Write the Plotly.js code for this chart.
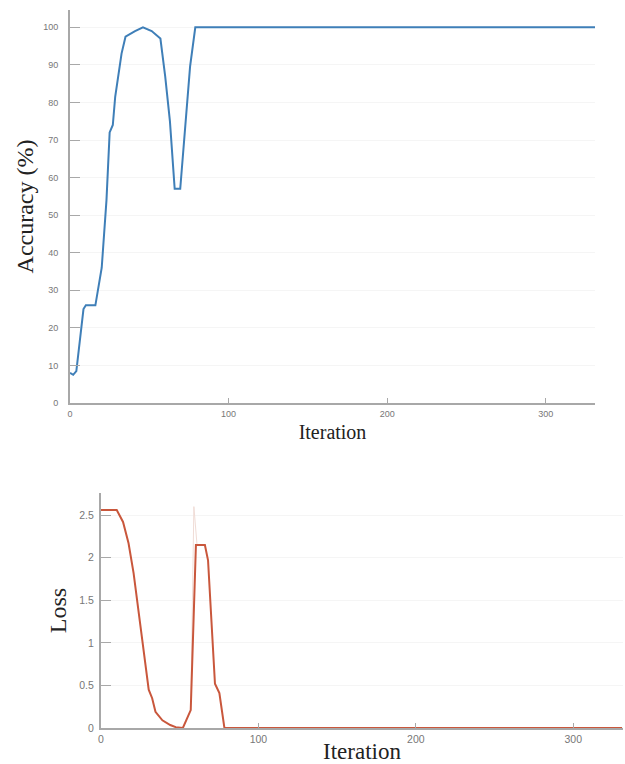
<!DOCTYPE html>
<html>
<head>
<meta charset="utf-8">
<script src="https://cdn.plot.ly/plotly-3.0.1.min.js"></script>
<style>html,body{margin:0;padding:0;background:#fff;}#chart{width:625px;height:764px;}</style>
</head>
<body>
<div id="chart"></div>
<script>
// Accuracy (%) vs iteration
const accIter = [0, 2, 4, 8.5, 10, 16, 20, 23, 25, 27, 28.5, 32.5, 35, 41, 46, 51.5, 57, 60, 63, 66, 69.5, 72.5, 75.7, 79, 331];
const accVal  = [8, 7.5, 8.5, 25, 26, 26, 36, 54, 72, 74, 81.5, 93, 97.5, 99, 100, 99, 97, 87, 75, 57, 57, 72, 89.5, 100, 100];
// Loss vs iteration (smoothed)
const lossIter = [0, 10, 14, 17.5, 20.7, 24, 27, 30.3, 32.5, 34.6, 39, 44, 47.5, 52, 57, 60.3, 66, 68, 72.4, 75.2, 78.4, 331];
const lossVal  = [2.56, 2.56, 2.42, 2.17, 1.82, 1.35, 0.88, 0.45, 0.35, 0.19, 0.09, 0.035, 0.01, 0, 0.21, 2.15, 2.15, 1.97, 0.52, 0.41, 0, 0];
// faint raw loss spike
const rawIter = [57, 59, 61];
const rawVal  = [0.21, 2.6, 2.15];

const xTicks = [0, 100, 200, 300];
const accTicks = [0, 10, 20, 30, 40, 50, 60, 70, 80, 90, 100];
const lossTicks = [0, 0.5, 1, 1.5, 2, 2.5];
const lossTickText = ["0", "0.5", "1", "1.5", "2", "2.5"];

const W = 625, H = 764;
const serif = "Liberation Serif, Times New Roman, serif";
const sans = "Liberation Sans, Arial, sans-serif";
const tickFontTop = {family: sans, size: 9, color: "#777"};
const tickFontBot = {family: sans, size: 10.5, color: "#777"};
const axisCommon = {
  showline: true, linecolor: "#a8a8a8", linewidth: 2,
  ticks: "inside", tickcolor: "#a8a8a8", tickwidth: 1,
  zeroline: false, showgrid: false, gridcolor: "#f5f5f5",
  mirror: false, fixedrange: true
};

const traces = [
  {x: accIter, y: accVal, xaxis: "x", yaxis: "y", mode: "lines",
   line: {color: "#3f7fb8", width: 2}, hoverinfo: "skip"},
  {x: rawIter, y: rawVal, xaxis: "x2", yaxis: "y2", mode: "lines",
   line: {color: "#f0dcd6", width: 1}, hoverinfo: "skip"},
  {x: lossIter, y: lossVal, xaxis: "x2", yaxis: "y2", mode: "lines",
   line: {color: "#c9573c", width: 2}, hoverinfo: "skip"}
];

const layout = {
  width: W, height: H,
  margin: {l: 0, r: 0, t: 0, b: 0},
  paper_bgcolor: "#fff", plot_bgcolor: "#fff",
  showlegend: false,
  xaxis: Object.assign({}, axisCommon, {
    domain: [70 / W, 595 / W], range: [0, 331], anchor: "y",
    tickvals: xTicks, ticklen: 5, ticklabelstandoff: 1, tickfont: tickFontTop,
    title: {text: "Iteration", font: {family: serif, size: 20, color: "#222"}, standoff: 7}
  }),
  yaxis: Object.assign({}, axisCommon, {
    domain: [1 - 403 / H, 1 - 10 / H], range: [0, 104.6], anchor: "x",
    tickvals: accTicks, ticklen: 10, ticklabelstandoff: 8, tickfont: tickFontTop,
    showgrid: true,
    title: {text: "Accuracy (%)", font: {family: serif, size: 24, color: "#222"}, standoff: 3}
  }),
  xaxis2: Object.assign({}, axisCommon, {
    domain: [101 / W, 623 / W], range: [0, 331.6], anchor: "y2",
    tickvals: xTicks, ticklen: 5, ticklabelstandoff: 0, tickfont: tickFontBot,
    title: {text: "Iteration", font: {family: serif, size: 23, color: "#222"}, standoff: 2}
  }),
  yaxis2: Object.assign({}, axisCommon, {
    domain: [1 - 728 / H, 1 - 493 / H], range: [0, 2.76], anchor: "x2",
    tickvals: lossTicks, ticktext: lossTickText, ticklen: 10, ticklabelstandoff: 3, tickfont: tickFontBot,
    showgrid: true,
    title: {text: "Loss", font: {family: serif, size: 24, color: "#222"}, standoff: 6}
  })
};

Plotly.newPlot("chart", traces, layout, {displayModeBar: false, staticPlot: true});
</script>
</body>
</html>
